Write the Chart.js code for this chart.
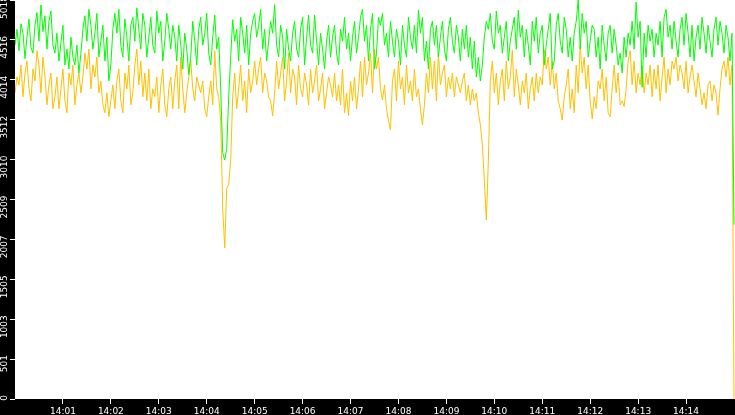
<!DOCTYPE html>
<html>
<head>
<meta charset="utf-8">
<script src="https://cdn.jsdelivr.net/npm/chart.js@4.4.1/dist/chart.umd.min.js"></script>
<style>
  html, body { margin: 0; padding: 0; background: #000; }
  #chart { display: block; }
</style>
</head>
<body>
<canvas id="chart" width="735" height="415"></canvas>
<script>
// one sample every 2.5 s starting at 14:00:00
const startHour = 14;
const sampleStep = 2.5;

const greenValues = [
  4450,4650,4380,4720,4600,4280,4550,4780,4420,4350,
  4700,4860,4500,4955,4620,4820,4400,4750,4880,4450,
  4350,4600,4250,4480,4700,4200,4400,4150,4550,4300,
  4200,4450,4100,4350,4650,4820,4500,4900,4700,4400,
  4600,4850,4300,4500,4700,4250,4550,4000,4200,4650,
  4850,4600,4900,4450,4300,4780,4550,4250,4700,4800,

  4500,4920,4650,4400,4850,4700,4300,4550,4800,4450,
  4350,4880,4600,4750,4250,4500,4850,4650,4400,4700,
  4550,4250,4700,4450,4150,4600,4400,4080,4300,4750,
  4500,4200,4650,4800,4450,4600,4850,4350,4200,4550,
  4830,4400,4550,3900,3100,3006,3150,3800,4300,4770,
  4500,4650,4250,4800,4600,4350,4700,4200,4600,4750,

  4850,4550,4700,4900,4400,4650,4250,4500,4750,4600,
  4960,4450,4300,4700,4550,4150,4650,4400,4250,4600,
  4750,4400,4300,4650,4800,4200,4550,4830,4450,4350,
  4830,4500,4200,4600,4400,4150,4500,4700,4300,4550,
  4700,4350,4200,4650,4500,4800,4400,4600,4250,4550,
  4750,4350,4550,4800,4900,4500,4700,4250,4650,4850,

  4150,4350,4800,4700,4850,4450,4600,4300,4750,4500,
  4300,4650,4500,4200,4700,4450,4300,4800,4550,4400,
  4700,4350,4890,4600,4800,4250,4500,4150,4650,4750,
  4450,4700,4300,4550,4750,4400,4250,4650,4800,4500,
  4350,4700,4550,4250,4650,4400,4700,4300,4550,4150,
  4500,4050,4300,4000,4200,4550,4750,4650,4850,4500,

  4400,4880,4600,4700,4350,4550,4750,4250,4500,4650,
  4800,4400,4890,4550,4700,4300,4650,4450,4200,4750,
  4500,4800,4350,4600,4700,4200,4450,4650,4850,4150,
  4250,4700,4850,4500,4350,4800,4650,4300,4550,4250,
  4600,4750,5018,4400,4850,4600,4750,4300,4500,4700,
  4650,4300,4550,4150,4700,4450,4250,4600,4700,4350,

  4650,4450,4200,4350,4100,4550,4300,4600,4450,4750,
  4400,4990,4550,4750,3920,4600,4300,4700,4500,4650,
  4300,4600,4450,4750,4300,4800,4900,4550,4700,4400,
  4750,4500,4300,4650,4800,4450,4850,4600,4300,4700,
  4250,4550,4700,4400,4800,4600,4350,4700,4500,4300,
  4650,4800,4450,4750,4600,4350,4700,4550,4250,4600,
  2190
];

const yellowValues = [
  3850,4050,3950,4200,3800,4100,4250,3900,3750,4150,
  4000,4380,4200,3850,4300,4050,3700,3950,4100,3650,
  3800,4050,3650,3900,4150,3750,3600,4100,3950,4200,
  3700,3950,4100,3850,4050,4350,4150,4400,3900,4200,
  4050,4300,3850,4000,3700,3600,3850,3550,3750,3950,
  3650,4000,4150,3750,3600,4100,3900,4200,3700,3850,

  4200,4400,3950,4250,3800,4100,3750,4150,3650,3900,
  3800,4050,3600,3950,4150,3700,3550,3900,4050,3650,
  4000,4200,3650,4300,3900,3600,3850,4050,4250,3900,
  3750,4050,3950,3850,4000,3650,3550,3800,4000,3700,
  4380,3900,3800,3500,2400,1900,2650,2700,3000,3800,
  4100,3650,3900,4200,3750,4000,3600,4150,3850,4000,

  4250,3950,4150,4300,3850,4100,4000,3800,3750,3560,
  3850,4250,3900,4100,4300,3750,4000,4350,3850,4150,
  4050,3700,4200,3900,3800,4100,3950,3700,4150,3850,
  4000,4200,3750,3900,4100,3650,3850,4050,3950,3800,
  4100,3750,3950,3700,4150,3600,3850,3560,4000,3750,
  4050,3650,3900,4250,3800,4300,3950,4100,4350,3850,

  4400,4150,4300,3900,3760,3950,3650,3500,3383,4000,
  4150,3750,4250,3900,4050,3700,4200,3850,4000,3750,
  4150,3800,3900,3650,3450,3700,4100,3850,4300,3900,
  4250,3750,4350,3950,4100,4200,3800,4050,3900,4100,
  3800,4050,3950,3850,4000,4100,3750,3950,3700,3900,
  3750,3850,3600,3450,3200,2750,2250,2990,4000,4250,

  3850,4100,3700,4000,4150,3750,4250,3900,4050,4390,
  3800,4150,3950,3700,4000,3850,4100,3650,3900,4050,
  3750,4100,3850,4050,3950,4390,4150,4300,3950,4250,
  3900,4100,3750,3650,3509,3800,3950,4150,3650,3900,
  3600,4200,3850,4450,4100,4300,3900,4200,3750,3520,
  3800,3650,4000,3900,4150,3750,4050,3600,3550,3900,

  4200,3850,4100,3700,3750,3680,3900,4250,4380,3950,
  4250,3850,4100,3950,4200,3850,4100,3950,4200,3800,
  4150,3900,4200,3750,4050,4300,3850,4150,3950,4250,
  4150,4300,4000,4200,4100,3900,4250,3850,4050,4200,
  4000,3800,4100,3900,3700,3850,3650,3950,4000,3750,
  3950,3850,3570,3900,4150,4250,4050,4300,3950,4200,
  0
];

const yTickValues = [0, 501.8, 1003.6, 1505.4, 2007.2, 2509, 3010.8, 3512.6, 4014.4, 4516.2, 5018];
const xTickMinutes = [1,2,3,4,5,6,7,8,9,10,11,12,13,14];

const toPoints = (values) => values.map((v, i) => ({ x: i * sampleStep, y: v }));

const pad2 = (n) => (n < 10 ? '0' + n : '' + n);

// fondo blanco solo en el area del grafico
const plotBackground = {
  id: 'plotBackground',
  beforeDraw(chart) {
    const { ctx, chartArea } = chart;
    ctx.save();
    ctx.fillStyle = '#ffffff';
    ctx.fillRect(chartArea.left, chartArea.top, chartArea.right - chartArea.left, chartArea.bottom - chartArea.top);
    ctx.restore();
  }
};

const tickFont = { family: 'DejaVu Sans', size: 9 };

new Chart(document.getElementById('chart'), {
  type: 'line',
  data: {
    datasets: [
      {
        label: 'green',
        data: toPoints(greenValues),
        borderColor: '#00ff00',
        borderWidth: 1,
        pointRadius: 0,
        tension: 0
      },
      {
        label: 'yellow',
        data: toPoints(yellowValues),
        borderColor: '#ffc000',
        borderWidth: 1,
        pointRadius: 0,
        tension: 0
      }
    ]
  },
  options: {
    responsive: false,
    devicePixelRatio: 1,
    animation: false,
    layout: { padding: 0 },
    plugins: {
      legend: { display: false },
      tooltip: { enabled: false }
    },
    scales: {
      x: {
        type: 'linear',
        min: 0,
        max: 901.25,
        afterFit: (scale) => {
          scale.height = 16;
          scale.paddingLeft = 0;
          scale.paddingRight = 0;
        },
        afterBuildTicks: (scale) => {
          scale.ticks = xTickMinutes.map(m => ({ value: m * 60 }));
        },
        border: { display: false },
        grid: {
          drawOnChartArea: false,
          drawTicks: true,
          tickLength: 5,
          tickColor: '#ffffff'
        },
        ticks: {
          color: '#ffffff',
          font: tickFont,
          padding: 2,
          maxRotation: 0,
          autoSkip: false,
          callback: (value) => startHour + ':' + pad2(Math.round(value / 60))
        }
      },
      y: {
        type: 'linear',
        min: 0,
        max: 5018,
        afterFit: (scale) => {
          scale.width = 15;
          scale.paddingTop = 0;
          scale.paddingBottom = 0;
        },
        afterBuildTicks: (scale) => {
          scale.ticks = yTickValues.map(v => ({ value: v }));
        },
        border: { display: false },
        grid: {
          drawOnChartArea: false,
          drawTicks: true,
          tickLength: 5,
          tickColor: '#ffffff'
        },
        ticks: {
          color: '#ffffff',
          font: tickFont,
          padding: 5,
          minRotation: 90,
          maxRotation: 90,
          labelOffset: -4,
          autoSkip: false,
          callback: (value) => '' + Math.floor(value)
        }
      }
    }
  },
  plugins: [plotBackground]
});
</script>
</body>
</html>
